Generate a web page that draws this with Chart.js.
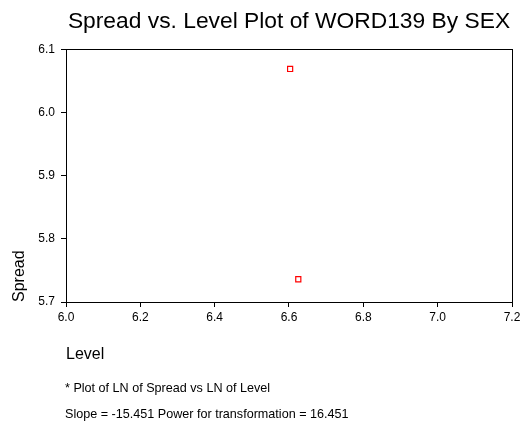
<!DOCTYPE html>
<html>
<head>
<meta charset="utf-8">
<script src="https://cdn.jsdelivr.net/npm/chart.js@4.4.1/dist/chart.umd.min.js"></script>
<style>
  html, body { margin: 0; padding: 0; background: #fff; }
  #wrap { width: 520px; height: 423px; }
</style>
</head>
<body>
<div id="wrap"><canvas id="spreadLevel"></canvas></div>
<script>
// LN of level and LN of spread for each SEX group
const levels = [6.603, 6.625];
const spreads = [6.069, 5.736];
const xTicks = [6.0, 6.2, 6.4, 6.6, 6.8, 7.0, 7.2];
const yTicks = [5.7, 5.8, 5.9, 6.0, 6.1];
const footnotes = [
    '* Plot of LN of Spread vs LN of Level',
    'Slope = -15.451 Power for transformation = 16.451'
];

const FONT = '"Liberation Sans", Arial, sans-serif';

// box around the plot area plus the footnote lines underneath
const framePlugin = {
    id: 'frame',
    afterDatasetsDraw(chart) {
        const { ctx, chartArea: a } = chart;
        ctx.save();
        ctx.strokeStyle = '#000';
        ctx.lineWidth = 1;
        ctx.strokeRect(Math.round(a.left) + 0.5, Math.round(a.top) + 0.5,
            Math.round(a.right - a.left), Math.round(a.bottom - a.top));
        ctx.restore();
    },
    afterDraw(chart) {
        const { ctx, chartArea: a } = chart;
        ctx.save();
        ctx.fillStyle = '#000';
        ctx.font = '12.6px ' + FONT;
        ctx.textAlign = 'left';
        ctx.textBaseline = 'middle';
        ctx.fillText(footnotes[0], a.left - 1, 389);
        ctx.fillText(footnotes[1], a.left - 1, 414.5);
        ctx.restore();
    }
};

new Chart(document.getElementById('spreadLevel'), {
    type: 'scatter',
    data: {
        datasets: [{
            data: levels.map((x, i) => ({ x: x, y: spreads[i] })),
            pointStyle: 'rect',
            pointRadius: 3.6,
            pointBorderWidth: 1.2,
            borderColor: '#ff0000',
            backgroundColor: '#ffffff'
        }]
    },
    options: {
        responsive: true,
        maintainAspectRatio: false,
        animation: false,
        layout: { padding: { left: 0, right: 8, top: 0, bottom: 51 } },
        plugins: {
            legend: { display: false },
            tooltip: { enabled: false },
            title: {
                display: true,
                text: 'Spread vs. Level Plot of WORD139 By SEX',
                fullSize: false,
                color: '#000',
                font: { family: FONT, size: 22.8, weight: 'normal' },
                padding: { top: 8, bottom: 14 }
            }
        },
        scales: {
            x: {
                type: 'linear',
                min: 6.0,
                max: 7.2,
                afterBuildTicks: s => { s.ticks = xTicks.map(v => ({ value: v })); },
                afterFit: s => { s.height = 70; s.paddingRight = 0; },
                border: { display: false },
                grid: { drawOnChartArea: false, tickLength: 5, color: '#000' },
                ticks: {
                    color: '#000',
                    padding: 3,
                    maxRotation: 0,
                    font: { family: FONT, size: 12 },
                    callback: v => v.toFixed(1)
                },
                title: {
                    display: true,
                    text: 'Level',
                    align: 'start',
                    color: '#000',
                    font: { family: FONT, size: 16 },
                    padding: { top: 0, bottom: 8 }
                }
            },
            y: {
                type: 'linear',
                min: 5.7,
                max: 6.1,
                afterBuildTicks: s => { s.ticks = yTicks.map(v => ({ value: v })); },
                afterFit: s => { s.width = 66; },
                border: { display: false },
                grid: { drawOnChartArea: false, tickLength: 5, color: '#000' },
                ticks: {
                    color: '#000',
                    padding: 6,
                    font: { family: FONT, size: 12 },
                    callback: v => v.toFixed(1)
                },
                title: {
                    display: true,
                    text: 'Spread',
                    align: 'start',
                    color: '#000',
                    font: { family: FONT, size: 16 },
                    padding: { top: 10, bottom: 0 }
                }
            }
        }
    },
    plugins: [framePlugin]
});
</script>
</body>
</html>
